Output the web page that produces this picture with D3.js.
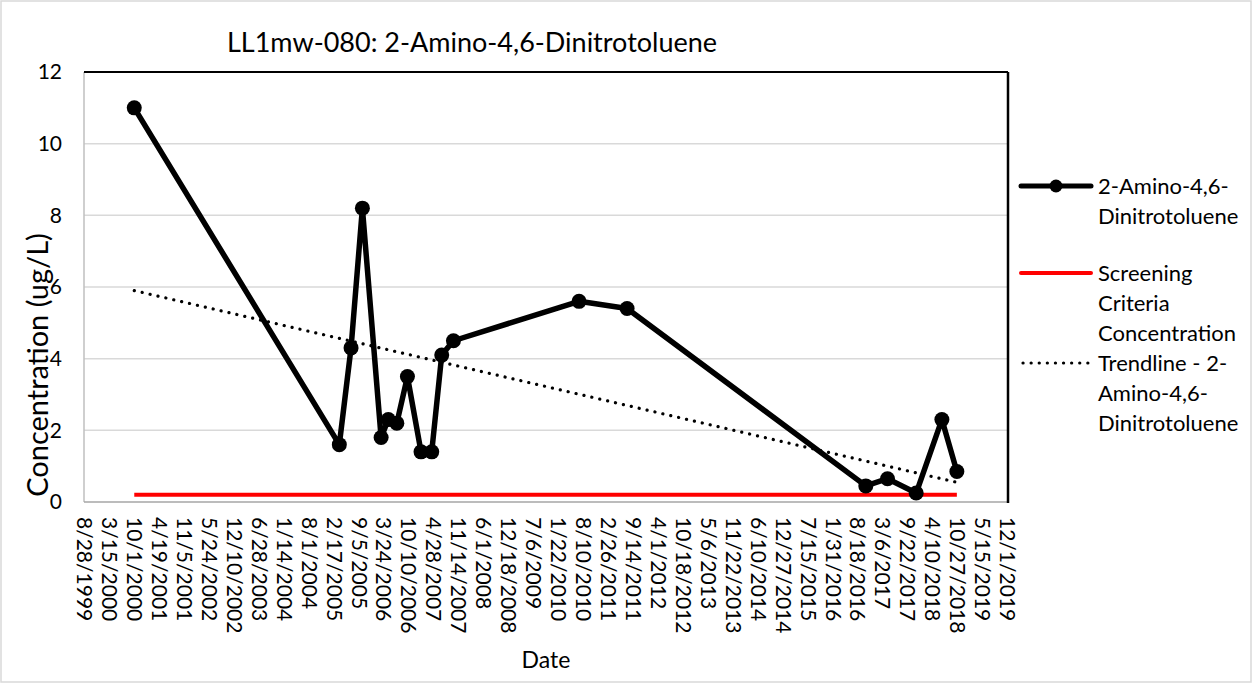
<!DOCTYPE html>
<html>
<head>
<meta charset="utf-8">
<script src="https://cdn.jsdelivr.net/npm/d3@7"></script>
<style>
  html, body { margin: 0; padding: 0; background: #fff; }
  svg text { font-family: Lato, "Open Sans", sans-serif; fill: #000; }
</style>
</head>
<body>
<svg id="chart" width="1252" height="683"></svg>
<script>
// ---------- data ----------
const chartTitle = "LL1mw-080: 2-Amino-4,6-Dinitrotoluene";
const sampleDates = ["10/4/2000","4/5/2005","7/8/2005","10/7/2005","3/6/2006","5/3/2006","7/10/2006","10/3/2006","1/20/2007","4/16/2007","7/5/2007","10/7/2007","7/10/2010","7/30/2011","10/25/2016","4/17/2017","12/3/2017","6/27/2018","10/25/2018"];
const concentrations = [11, 1.6, 4.3, 8.2, 1.8, 2.3, 2.2, 3.5, 1.4, 1.4, 4.1, 4.5, 5.6, 5.4, 0.45, 0.65, 0.25, 2.3, 0.85];
const screeningCriteria = [0.2, 0.2];         // at first and last sample date
const trendlineValues = [5.9, 0.55];          // at first and last sample date
const xTickLabels = ["8/28/1999","3/15/2000","10/1/2000","4/19/2001","11/5/2001","5/24/2002","12/10/2002","6/28/2003","1/14/2004","8/1/2004","2/17/2005","9/5/2005","3/24/2006","10/10/2006","4/28/2007","11/14/2007","6/1/2008","12/18/2008","7/6/2009","1/22/2010","8/10/2010","2/26/2011","9/14/2011","4/1/2012","10/18/2012","5/6/2013","11/22/2013","6/10/2014","12/27/2014","7/15/2015","1/31/2016","8/18/2016","3/6/2017","9/22/2017","4/10/2018","10/27/2018","5/15/2019","12/1/2019"];
const yTicks = [0, 2, 4, 6, 8, 10, 12];
const legendLabels = [["2-Amino-4,6-","Dinitrotoluene"],["Screening","Criteria","Concentration"],["Trendline - 2-","Amino-4,6-","Dinitrotoluene"]];

// ---------- layout ----------
const svg = d3.select("#chart");
const W = 1252, H = 683;
const plot = {left: 84, top: 72, right: 1007, bottom: 502};
const parse = d3.utcParse("%m/%d/%Y");
const fmt = d => `${d.getUTCMonth()+1}/${d.getUTCDate()}/${d.getUTCFullYear()}`;

const tickDates = xTickLabels.map(parse);
const x = d3.scaleUtc().domain([tickDates[0], tickDates[tickDates.length-1]]).range([plot.left, plot.right]);
const y = d3.scaleLinear().domain([0, 12]).range([plot.bottom, plot.top]);

const data = sampleDates.map((s, i) => ({date: parse(s), value: concentrations[i]}));
const firstDate = data[0].date, lastDate = data[data.length-1].date;

// outer border
svg.append("rect").attr("x", 1).attr("y", 1).attr("width", W - 2).attr("height", H - 2)
  .attr("fill", "#fff").attr("stroke", "#d9d9d9").attr("stroke-width", 1.5);

// gridlines
svg.append("g").selectAll("line").data(yTicks.filter(t => t > 0 && t < 12)).join("line")
  .attr("x1", plot.left).attr("x2", plot.right)
  .attr("y1", d => y(d)).attr("y2", d => y(d))
  .attr("stroke", "#d9d9d9").attr("stroke-width", 1.5);

// frame: left & bottom grey, top & right black
svg.append("line").attr("x1", plot.left).attr("x2", plot.left).attr("y1", plot.top).attr("y2", plot.bottom)
  .attr("stroke", "#bfbfbf").attr("stroke-width", 1.5);
svg.append("line").attr("x1", plot.left).attr("x2", plot.right).attr("y1", plot.bottom).attr("y2", plot.bottom)
  .attr("stroke", "#a6a6a6").attr("stroke-width", 1.5);
svg.append("line").attr("x1", plot.left).attr("x2", plot.right + 1).attr("y1", plot.top).attr("y2", plot.top)
  .attr("stroke", "#000").attr("stroke-width", 2);
svg.append("line").attr("x1", plot.right + 1).attr("x2", plot.right + 1).attr("y1", plot.top).attr("y2", plot.bottom + 1)
  .attr("stroke", "#000").attr("stroke-width", 2.5);

// axis titles (drawn before tick labels so labels sit on top)
svg.append("text").attr("transform", "translate(48,365) rotate(-90)").attr("text-anchor", "middle")
  .style("font-size", "29px").text("Concentration (ug/L)");
svg.append("text").attr("x", 546).attr("y", 668).attr("text-anchor", "middle")
  .style("font-size", "23px").text("Date");

// y axis labels
const yAxis = d3.axisLeft(y).tickValues(yTicks).tickSize(0).tickPadding(22).tickFormat(d3.format("d"));
const gy = svg.append("g").attr("transform", `translate(${plot.left},0)`).call(yAxis);
gy.select(".domain").remove();
gy.selectAll("text").style("font-size", "21px").style("font-family", "Lato, sans-serif");

// x axis labels
const xAxis = d3.axisBottom(x).tickValues(tickDates).tickSize(0).tickFormat(fmt);
const gx = svg.append("g").attr("transform", `translate(0,${plot.bottom})`).call(xAxis);
gx.select(".domain").remove();
gx.selectAll("text")
  .style("font-size", "21px").style("font-family", "Lato, sans-serif")
  .attr("text-anchor", "start")
  .attr("transform", "rotate(90)")
  .attr("x", 15).attr("y", 0).attr("dy", "0.35em");

// screening criteria line
svg.append("line")
  .attr("x1", x(firstDate)).attr("x2", x(lastDate))
  .attr("y1", y(screeningCriteria[0])).attr("y2", y(screeningCriteria[1]))
  .attr("stroke", "#ff0000").attr("stroke-width", 4);

// data line
const line = d3.line().x(d => x(d.date)).y(d => y(d.value));
svg.append("path").datum(data).attr("d", line)
  .attr("fill", "none").attr("stroke", "#000").attr("stroke-width", 5.5).attr("stroke-linejoin", "round");
svg.append("g").selectAll("circle").data(data).join("circle")
  .attr("cx", d => x(d.date)).attr("cy", d => y(d.value)).attr("r", 7.5).attr("fill", "#000");

// trendline (dotted)
svg.append("line")
  .attr("x1", x(firstDate)).attr("x2", x(lastDate))
  .attr("y1", y(trendlineValues[0])).attr("y2", y(trendlineValues[1]))
  .attr("stroke", "#000").attr("stroke-width", 3.2)
  .attr("stroke-dasharray", "0.1 8").attr("stroke-linecap", "round");

// title
svg.append("text").attr("x", 472).attr("y", 52).attr("text-anchor", "middle")
  .style("font-size", "27px").text(chartTitle);

// legend
const lg = svg.append("g");
const lx1 = 1021, lx2 = 1091, tx = 1098;
const lineH = 30;
const entryY = [186, 273, 363];
lg.append("line").attr("x1", lx1).attr("x2", lx2).attr("y1", entryY[0]).attr("y2", entryY[0])
  .attr("stroke", "#000").attr("stroke-width", 5).attr("stroke-linecap", "round");
lg.append("circle").attr("cx", (lx1 + lx2) / 2).attr("cy", entryY[0]).attr("r", 6.5).attr("fill", "#000");
lg.append("line").attr("x1", lx1).attr("x2", lx2).attr("y1", entryY[1]).attr("y2", entryY[1])
  .attr("stroke", "#ff0000").attr("stroke-width", 4).attr("stroke-linecap", "round");
lg.append("line").attr("x1", lx1 + 2).attr("x2", lx2).attr("y1", entryY[2]).attr("y2", entryY[2])
  .attr("stroke", "#000").attr("stroke-width", 3.2)
  .attr("stroke-dasharray", "0.1 8").attr("stroke-linecap", "round");

legendLabels.forEach((lines, i) => {
  const t = lg.append("text").style("font-size", "22px");
  lines.forEach((s, j) => {
    t.append("tspan").attr("x", tx).attr("y", entryY[i] + j * lineH).attr("dy", "0.35em").text(s);
  });
});
</script>
</body>
</html>
